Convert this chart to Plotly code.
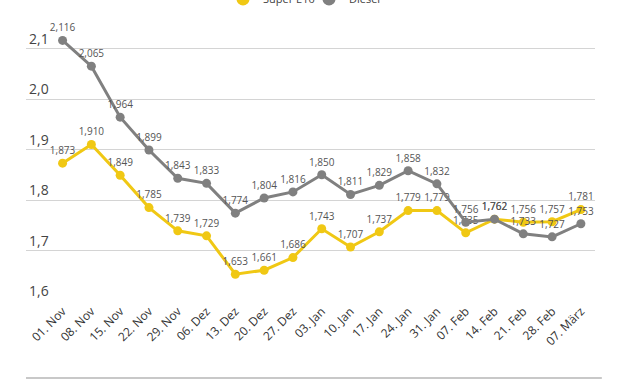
import plotly.graph_objects as go

dates = ["01. Nov", "08. Nov", "15. Nov", "22. Nov", "29. Nov", "06. Dez", "13. Dez",
         "20. Dez", "27. Dez", "03. Jan", "10. Jan", "17. Jan", "24. Jan", "31. Jan",
         "07. Feb", "14. Feb", "21. Feb", "28. Feb", "07. März"]
super_e10 = [1.873, 1.910, 1.849, 1.785, 1.739, 1.729, 1.653, 1.661, 1.686, 1.743,
             1.707, 1.737, 1.779, 1.779, 1.735, 1.762, 1.756, 1.757, 1.781]
diesel = [2.116, 2.065, 1.964, 1.899, 1.843, 1.833, 1.774, 1.804, 1.816, 1.850,
          1.811, 1.829, 1.858, 1.832, 1.756, 1.762, 1.733, 1.727, 1.753]
y_ticks = [1.6, 1.7, 1.8, 1.9, 2.0, 2.1]

YELLOW = "#f0c814"
GRAY = "#808080"
FONT = "Open Sans"

def fmt(v):
    return f"{v:.3f}".replace(".", ",")

T, B, H, L, R, W = 18, 80, 381, 26, 35, 630
ph = H - T - B
pw = W - L - R

x = list(range(len(dates)))
fig = go.Figure()
for name, vals, col, lg in [("Super E10", super_e10, YELLOW, "legend"),
                            ("Diesel", diesel, GRAY, "legend2")]:
    fig.add_trace(go.Scatter(
        x=x, y=vals, mode="lines+markers+text", name=name,
        line=dict(color=col, width=3), marker=dict(color=col, size=9),
        text=[fmt(v) for v in vals], textposition="top center",
        textfont=dict(family=FONT, size=10, color="#555555"),
        showlegend=False, cliponaxis=False))
    fig.add_trace(go.Scatter(
        x=[None], y=[None], mode="markers", name=name, legend=lg,
        marker=dict(color=col, size=13), showlegend=True))

leg_common = dict(orientation="h", xanchor="left", y=1 + (T + 1) / ph, yanchor="middle",
                  font=dict(family=FONT, size=11, color="#444444"),
                  itemwidth=30, bgcolor="rgba(0,0,0,0)")
fig.update_layout(
    width=W, height=H,
    margin=dict(l=L, r=R, t=T, b=B, autoexpand=False),
    paper_bgcolor="white", plot_bgcolor="white",
    separators=",.",
    font=dict(family=FONT, color="#444444"),
    legend=dict(x=(223 - L) / pw, **leg_common),
    legend2=dict(x=(309 - L) / pw, **leg_common),
    xaxis=dict(range=[-1.27, 18.49], tickmode="array", tickvals=x, ticktext=dates,
               tickangle=-45, showgrid=False, zeroline=False, showline=False,
               tickfont=dict(family=FONT, size=12, color="#333333")),
    yaxis=dict(range=[1.6, 1.6 + ph / 505], tickmode="array", tickvals=y_ticks,
               ticktext=[f"{v:.1f}".replace(".", ",") for v in y_ticks],
               ticklabelposition="inside top", showgrid=True, gridcolor="#d4d4d4",
               gridwidth=1, zeroline=False, showline=False,
               tickfont=dict(family=FONT, size=14, color="#444444")),
)
fig.add_shape(type="line", xref="paper", yref="paper", x0=0, x1=1.012,
              y0=-(378 - 301) / ph, y1=-(378 - 301) / ph,
              line=dict(color="#c8c8c8", width=2))

fig.write_html("out.html", config={"displayModeBar": False},
               post_script="document.body.style.margin='0';")
